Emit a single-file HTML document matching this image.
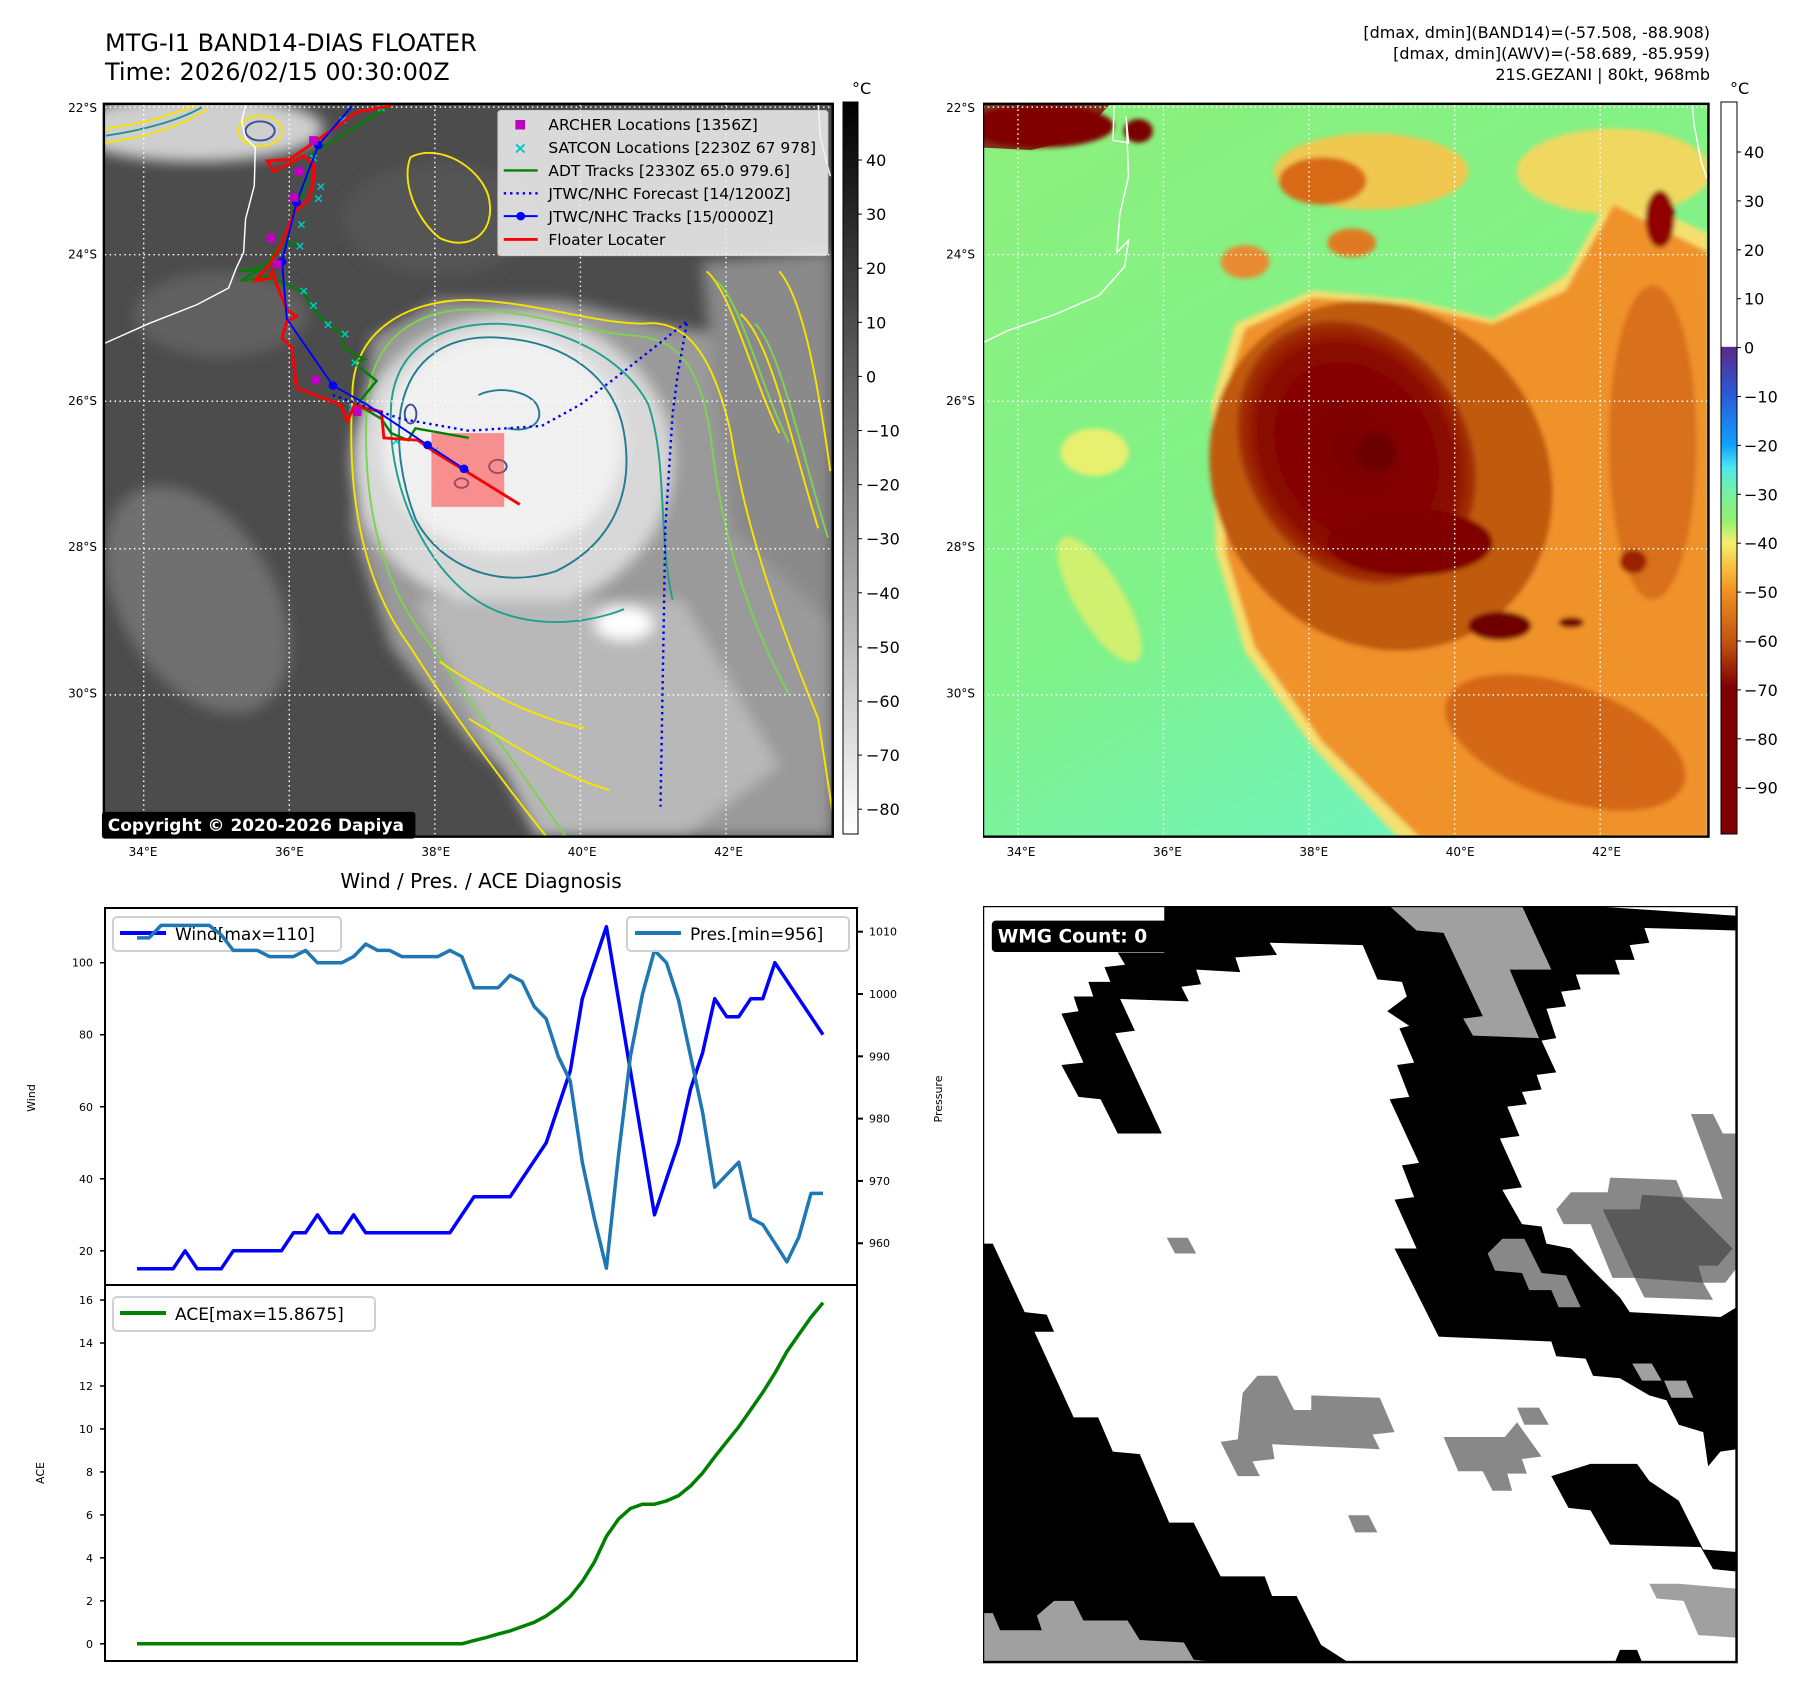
<!DOCTYPE html>
<html><head><meta charset="utf-8"><style>
html,body{margin:0;padding:0;background:#fff;}
svg text{font-family:"DejaVu Sans","Liberation Sans",sans-serif;}
</style></head><body>
<svg id="root" width="1797" height="1692" viewBox="0 0 1797 1692" xmlns="http://www.w3.org/2000/svg">
<defs>
<filter id="blur8" x="-20%" y="-20%" width="140%" height="140%"><feGaussianBlur stdDeviation="14"/></filter>
<filter id="blur3"><feGaussianBlur stdDeviation="5"/></filter>
<linearGradient id="cbGray" x1="0" y1="0" x2="0" y2="1"><stop offset="0" stop-color="#000"/><stop offset="1" stop-color="#fff"/></linearGradient>
<linearGradient id="cbColor" x1="0" y1="0" x2="0" y2="1">
<stop offset="0" stop-color="#fff"/><stop offset="0.334" stop-color="#fff"/>
<stop offset="0.335" stop-color="#5b2a86"/><stop offset="0.40" stop-color="#2a5ad8"/>
<stop offset="0.468" stop-color="#10a0ff"/><stop offset="0.50" stop-color="#50e8f0"/>
<stop offset="0.535" stop-color="#78f0a0"/><stop offset="0.57" stop-color="#90f070"/>
<stop offset="0.602" stop-color="#f4f070"/><stop offset="0.635" stop-color="#f8c040"/>
<stop offset="0.67" stop-color="#f09020"/><stop offset="0.74" stop-color="#c05010"/>
<stop offset="0.80" stop-color="#800000"/><stop offset="1" stop-color="#800000"/>
</linearGradient>
<radialGradient id="rgCore" cx="0.5" cy="0.5" r="0.5"><stop offset="0" stop-color="#7a0000"/><stop offset="0.8" stop-color="#8a0800"/><stop offset="1" stop-color="#a83a08"/></radialGradient>
<linearGradient id="bgGreen" x1="0" y1="0" x2="0.6" y2="1"><stop offset="0" stop-color="#8cf07c"/><stop offset="0.6" stop-color="#80f28a"/><stop offset="1" stop-color="#70f4c0"/></linearGradient>
</defs>

<text x="105" y="51" font-size="24">MTG-I1 BAND14-DIAS FLOATER</text>
<text x="105" y="80" font-size="24">Time: 2026/02/15 00:30:00Z</text>
<g font-size="16" text-anchor="end">
<text x="1710" y="38">[dmax, dmin](BAND14)=(-57.508, -88.908)</text>
<text x="1710" y="59">[dmax, dmin](AWV)=(-58.689, -85.959)</text>
<text x="1710" y="80">21S.GEZANI | 80kt, 968mb</text>
</g>

<svg x="100" y="100" width="757" height="740" viewBox="0 0 1560 1555" preserveAspectRatio="none">
<clipPath id="clipL"><rect x="8" y="8" width="1502" height="1540"/></clipPath>
<g clip-path="url(#clipL)">
<rect x="0" y="0" width="1560" height="1555" fill="#4c4c4c"/>
<g filter="url(#blur8)">
<ellipse cx="200" cy="60" rx="260" ry="70" fill="#cfcfcf"/>
<ellipse cx="250" cy="450" rx="180" ry="90" fill="#606060"/>
<ellipse cx="200" cy="1050" rx="160" ry="260" fill="#707070" transform="rotate(-30 200 1050)"/>
<ellipse cx="700" cy="250" rx="200" ry="120" fill="#555"/>
<polygon points="560,500 700,420 950,420 1150,470 1320,500 1510,460 1510,1548 1000,1548 760,1350 600,1150 520,900" fill="#9a9a9a"/>
<polygon points="1240,340 1510,320 1510,1100 1300,900" fill="#8a8a8a"/>
<ellipse cx="850" cy="760" rx="330" ry="310" fill="#d8d8d8"/>
<ellipse cx="830" cy="720" rx="250" ry="230" fill="#f0f0f0"/>
<polygon points="650,1050 1200,1050 1400,1400 1200,1548 900,1548" fill="#b8b8b8"/>
<ellipse cx="1080" cy="1100" rx="60" ry="35" fill="#fff"/>
</g>
<g fill="none" stroke-width="4">
<path d="M520,620 C520,480 640,420 760,420 C900,425 1020,470 1120,470 C1200,460 1260,520 1300,700 C1330,900 1400,1100 1480,1300 L1510,1500 M520,620 C510,800 530,1000 640,1150 C720,1280 820,1420 920,1548" stroke="#f5e400"/>
<path d="M550,640 C560,500 650,440 770,440 C900,445 1010,490 1100,495 C1190,500 1240,560 1260,720 C1280,900 1330,1080 1420,1250 M550,640 C540,820 570,1000 670,1130 C760,1260 860,1400 960,1548" stroke="#7dd34f"/>
<path d="M600,640 C610,520 700,470 820,470 C950,475 1080,540 1130,640 C1170,760 1150,920 1180,1050 M600,640 C590,800 660,960 760,1040 C850,1110 980,1110 1080,1070" stroke="#21a08c"/>
<path d="M620,650 C640,540 720,490 830,500 C960,510 1060,580 1080,700 C1100,820 1060,930 940,990 C820,1030 700,980 650,880 C620,800 610,720 620,650" stroke="#227d8e"/>
<path d="M12,90 C80,80 160,60 220,20 M12,60 C90,50 150,30 200,10" stroke="#f5e400"/>
<path d="M12,75 C80,65 160,45 210,15" stroke="#21918c"/>
<ellipse cx="330" cy="65" rx="30" ry="20" stroke="#3b528b"/>
<ellipse cx="330" cy="65" rx="45" ry="32" stroke="#f5e400"/>
<path d="M640,120 C700,90 780,140 800,200 C820,280 760,320 700,290 C650,250 620,170 640,120" stroke="#f5e400"/>
<path d="M1250,360 C1300,400 1350,600 1400,700 M1320,450 C1380,500 1420,700 1480,900 M1400,360 C1450,420 1480,600 1505,780" stroke="#f5e400"/>
<path d="M1270,380 C1320,420 1360,600 1420,720 M1350,470 C1400,520 1440,720 1500,920" stroke="#7dd34f"/>
<ellipse cx="820" cy="770" rx="18" ry="14" stroke="#3b528b"/>
<ellipse cx="745" cy="805" rx="14" ry="10" stroke="#3b528b"/>
<ellipse cx="640" cy="660" rx="12" ry="20" stroke="#3b528b"/>
<path d="M780,620 C820,600 880,610 900,640 C920,680 880,700 840,690" stroke="#227d8e"/>
<path d="M700,1180 C800,1250 900,1300 1000,1320 M760,1300 C860,1360 950,1420 1050,1450" stroke="#f5e400"/>
</g>
<g stroke="#fff" stroke-width="3" stroke-dasharray="3,7">
<line x1="90" y1="0" x2="90" y2="1555"/><line x1="390" y1="0" x2="390" y2="1555"/><line x1="690" y1="0" x2="690" y2="1555"/><line x1="990" y1="0" x2="990" y2="1555"/><line x1="1290" y1="0" x2="1290" y2="1555"/>
<line x1="0" y1="15" x2="1560" y2="15"/><line x1="0" y1="325" x2="1560" y2="325"/><line x1="0" y1="633" x2="1560" y2="633"/><line x1="0" y1="943" x2="1560" y2="943"/><line x1="0" y1="1250" x2="1560" y2="1250"/>
</g>
<path d="M300,10 L292,45 L300,80 L320,100 L318,180 L300,250 L296,320 L280,355 L265,395 L200,430 L100,470 L8,512" fill="none" stroke="#fff" stroke-width="3"/>
<path d="M1480,10 L1485,80 L1505,160" fill="none" stroke="#fff" stroke-width="3"/>
<rect x="683" y="700" width="150" height="155" fill="#ff4040" fill-opacity="0.55"/>
<polyline points="600,12 440,110 430,150 415,200 395,240 385,300 410,305 375,300 340,350 285,360 330,355 290,380 350,370 390,390 420,405 440,440 480,480 500,490 500,520 545,545 520,550 570,590 530,640 580,670 600,700 635,715 650,690 760,710" fill="none" stroke="#008000" stroke-width="5"/>
<g fill="#00c8c8" font-size="26" font-weight="bold" text-anchor="middle">
<text x="440" y="130">×</text><text x="455" y="190">×</text><text x="450" y="215">×</text><text x="415" y="270">×</text><text x="412" y="315">×</text><text x="420" y="410">×</text><text x="440" y="440">×</text><text x="470" y="480">×</text><text x="505" y="500">×</text><text x="525" y="560">×</text><text x="520" y="655">×</text><text x="610" y="725">×</text><text x="690" y="745">×</text><text x="580" y="25">×</text><text x="500" y="50">×</text>
</g>
<polyline points="600,12 530,25 440,90 390,125 345,128 358,150 420,118 440,135 440,170 430,210 400,235 375,300 350,345 320,380 350,375 355,360 365,390 385,440 405,455 385,465 375,500 395,520 405,605 495,640 510,675 525,640 555,650 580,655 585,710 655,715 690,740 865,850" fill="none" stroke="#ff0000" stroke-width="6"/>
<polyline points="520,12 450,95 405,215 375,340 385,460 480,600 550,640 675,725 750,775 760,780" fill="none" stroke="#0000ff" stroke-width="4"/>
<g fill="#0000ff"><circle cx="450" cy="95" r="9"/><circle cx="405" cy="215" r="9"/><circle cx="375" cy="340" r="9"/><circle cx="480" cy="600" r="9"/><circle cx="675" cy="725" r="9"/><circle cx="750" cy="775" r="9"/></g>
<polyline points="480,620 620,670 760,695 910,685 990,640 1080,570 1210,465 1190,580 1180,660 1165,900 1160,1200 1155,1485" fill="none" stroke="#0000ff" stroke-width="5" stroke-dasharray="5,8"/>
<g fill="#c000c0"><rect x="431" y="76" width="18" height="18"/><rect x="401" y="141" width="18" height="18"/><rect x="391" y="196" width="18" height="18"/><rect x="343" y="281" width="18" height="18"/><rect x="356" y="336" width="18" height="18"/><rect x="436" y="579" width="18" height="18"/><rect x="521" y="646" width="18" height="18"/></g>
</g>
<g>
<rect x="820" y="22" width="680" height="305" rx="6" fill="#f2f2f2" fill-opacity="0.85" stroke="#ccc" stroke-width="2"/>
<rect x="856" y="42" width="20" height="20" fill="#c000c0"/>
<text x="866" y="112" fill="#00c8c8" font-size="34" font-weight="bold" text-anchor="middle">×</text>
<line x1="832" y1="148" x2="902" y2="148" stroke="#008000" stroke-width="5"/>
<line x1="832" y1="196" x2="902" y2="196" stroke="#0000ff" stroke-width="5" stroke-dasharray="5,8"/>
<line x1="832" y1="244" x2="902" y2="244" stroke="#0000ff" stroke-width="4"/><circle cx="867" cy="244" r="9" fill="#0000ff"/>
<line x1="832" y1="293" x2="902" y2="293" stroke="#ff0000" stroke-width="6"/>
<g font-size="32"><text x="924" y="63">ARCHER Locations [1356Z]</text><text x="924" y="111">SATCON Locations [2230Z 67 978]</text><text x="924" y="160">ADT Tracks [2330Z 65.0 979.6]</text><text x="924" y="208">JTWC/NHC Forecast [14/1200Z]</text><text x="924" y="256">JTWC/NHC Tracks [15/0000Z]</text><text x="924" y="305">Floater Locater</text></g>
</g>
<rect x="8" y="8" width="1502" height="1540" fill="none" stroke="#000" stroke-width="5"/>
<rect x="4" y="1496" width="646" height="56" rx="6" fill="#000"/>
<text x="16" y="1536" font-size="35" font-weight="bold" fill="#fff">Copyright © 2020-2026 Dapiya</text>
</svg>

<g>
<rect x="843" y="102" width="15" height="732" fill="url(#cbGray)" stroke="#000" stroke-width="1"/>
<text x="852" y="94" font-size="16">°C</text>
<g font-size="16" id="cbLticks"></g>
</g>

<svg x="983" y="100" width="757" height="740" viewBox="0 0 1560 1555" preserveAspectRatio="none">
<clipPath id="clipR"><rect x="0" y="8" width="1495" height="1540"/></clipPath>
<g clip-path="url(#clipR)">
<rect x="0" y="0" width="1560" height="1555" fill="url(#bgGreen)"/>
<g filter="url(#blur3)">
<ellipse cx="230" cy="740" rx="70" ry="50" fill="#e8f070"/>
<ellipse cx="240" cy="1050" rx="50" ry="150" fill="#d0f070" transform="rotate(-30 240 1050)"/>
<polygon points="470,640 520,470 680,400 880,420 1050,460 1200,370 1300,190 1495,280 1495,1555 860,1555 680,1360 540,1160 480,950" fill="#f4e070"/>
<ellipse cx="800" cy="150" rx="200" ry="80" fill="#f0c850"/>
<ellipse cx="1300" cy="150" rx="200" ry="90" fill="#f0d860"/>
<polygon points="490,640 540,480 680,415 880,430 1050,470 1200,400 1300,220 1495,320 1495,1550 900,1550 700,1350 560,1150 500,950" fill="#f0922a"/>
<ellipse cx="700" cy="170" rx="90" ry="50" fill="#d86a18"/>
<ellipse cx="540" cy="340" rx="50" ry="35" fill="#e88a30"/>
<ellipse cx="760" cy="300" rx="50" ry="30" fill="#e07a20"/>
<ellipse cx="1380" cy="720" rx="90" ry="330" fill="#d8701c"/>
<ellipse cx="820" cy="790" rx="340" ry="380" fill="#c05a10" transform="rotate(-35 820 790)"/>
<ellipse cx="1200" cy="1350" rx="260" ry="120" fill="#d46818" transform="rotate(20 1200 1350)"/>
<ellipse cx="770" cy="740" rx="230" ry="290" fill="url(#rgCore)" transform="rotate(-30 770 740)"/>
<ellipse cx="880" cy="930" rx="170" ry="70" fill="#800000"/>
<ellipse cx="810" cy="740" rx="40" ry="40" fill="#6a0000"/>
<ellipse cx="1065" cy="1105" rx="65" ry="30" fill="#700000"/>
<ellipse cx="1212" cy="1098" rx="26" ry="11" fill="#700000"/>
<ellipse cx="1395" cy="250" rx="30" ry="60" fill="#900000"/>
<ellipse cx="1340" cy="970" rx="28" ry="25" fill="#9a2000"/>
<ellipse cx="120" cy="55" rx="150" ry="45" fill="#800000"/>
<ellipse cx="320" cy="65" rx="30" ry="25" fill="#7a0000"/>
</g>
<polygon points="0,10 260,10 200,80 100,105 0,100" fill="#800000" opacity="0.8"/>
<g stroke="#fff" stroke-width="3" stroke-dasharray="3,7">
<line x1="72" y1="0" x2="72" y2="1555"/><line x1="372" y1="0" x2="372" y2="1555"/><line x1="672" y1="0" x2="672" y2="1555"/><line x1="972" y1="0" x2="972" y2="1555"/><line x1="1272" y1="0" x2="1272" y2="1555"/>
<line x1="0" y1="15" x2="1560" y2="15"/><line x1="0" y1="325" x2="1560" y2="325"/><line x1="0" y1="633" x2="1560" y2="633"/><line x1="0" y1="943" x2="1560" y2="943"/><line x1="0" y1="1250" x2="1560" y2="1250"/>
</g>
<path d="M270,12 L268,85 L300,90 L295,35 L300,160 L282,240 L276,320 L300,295 L292,350 L240,410 L150,450 L50,485 L0,510" fill="none" stroke="#fff" stroke-width="3"/>
<path d="M1462,12 L1465,50 L1480,130 L1492,165" fill="none" stroke="#fff" stroke-width="3"/>
</g>
<rect x="0" y="8" width="1495" height="1540" fill="none" stroke="#000" stroke-width="5"/>
</svg>

<g>
<rect x="1721" y="102" width="16" height="732" fill="url(#cbColor)" stroke="#000" stroke-width="1"/>
<text x="1730" y="94" font-size="16">°C</text>
<g font-size="16" id="cbRticks"></g>
</g>

<g font-size="12" id="mapTicks"></g>

<text x="481" y="888" font-size="20" text-anchor="middle">Wind / Pres. / ACE Diagnosis</text>
<g id="chart"></g>
<text transform="translate(35,1098) rotate(-90)" font-size="11" text-anchor="middle">Wind</text>
<text transform="translate(942,1099) rotate(-90)" font-size="11" text-anchor="middle">Pressure</text>
<text transform="translate(44,1473) rotate(-90)" font-size="11" text-anchor="middle">ACE</text>

<svg x="983" y="906" width="756" height="759" viewBox="0 0 1543 1551" preserveAspectRatio="none">
<rect x="0" y="0" width="1538" height="1545" fill="#fff"/>
<g fill="#000">
<polygon points="370,0 1240,0 1538,20 1538,50 1350,45 1360,75 1320,80 1330,110 1290,110 1300,140 1210,140 1220,170 1180,175 1190,205 1150,210 1170,270 1140,275 1170,340 1130,345 1140,375 1100,380 1110,405 1070,410 1095,470 1055,475 1100,575 1060,580 1100,650 1140,655 1150,690 1200,700 1300,800 1320,830 1505,840 1538,820 1538,1110 1505,1115 1480,1145 1470,1075 1420,1060 1395,1010 1360,1000 1300,965 1245,960 1230,925 1170,920 1160,890 930,880 840,700 885,700 840,600 880,595 855,530 890,525 830,395 870,390 845,325 880,320 850,250 870,245 825,215 865,185 855,155 805,150 775,80 585,75 600,100 515,105 525,135 435,130 445,160 405,165 420,195 280,190 310,255 270,260 365,465 275,465 240,395 195,390 160,325 205,320 160,220 195,215 185,185 225,185 215,155 260,155 248,125 290,120 275,95 370,95"/>
<polygon points="0,690 20,690 85,830 130,835 145,870 105,870 185,1045 235,1045 265,1115 320,1120 380,1260 430,1260 485,1370 575,1370 590,1410 640,1410 690,1510 745,1545 0,1545"/>
<polygon points="1160,1165 1240,1140 1335,1140 1360,1175 1420,1215 1470,1315 1538,1320 1538,1360 1490,1355 1465,1310 1280,1305 1240,1235 1195,1230"/>
<polygon points="1290,1545 1300,1520 1335,1520 1345,1545"/>
</g>
<g fill="#a0a0a0">
<polygon points="830,0 1100,0 1160,130 1075,130 1135,270 1000,265 980,230 1020,225 940,55 885,50"/>
<polygon points="0,1445 20,1445 35,1480 120,1480 110,1450 145,1420 185,1420 205,1460 295,1460 320,1500 410,1505 430,1540 475,1545 0,1545"/>
<polygon points="1325,935 1365,935 1385,970 1345,970"/><polygon points="1390,970 1435,970 1450,1005 1405,1005"/>
<polygon points="1360,1385 1420,1385 1538,1395 1538,1495 1460,1490 1430,1420 1375,1415"/>
</g>
<g fill="#888">
<polygon points="530,995 560,960 600,960 635,1030 670,1030 670,1000 810,1005 840,1075 795,1080 810,1110 590,1100 595,1130 550,1135 565,1165 520,1165 485,1095 520,1090"/>
<polygon points="940,1085 1065,1085 1090,1055 1140,1125 1100,1130 1110,1160 1070,1160 1080,1195 1040,1195 1020,1155 970,1155"/>
<polygon points="1090,1025 1135,1025 1155,1060 1105,1060"/>
<polygon points="1170,620 1200,585 1275,585 1280,555 1415,560 1430,595 1538,600 1538,740 1515,770 1470,770 1490,805 1350,800 1330,760 1285,760 1240,650 1185,650"/>
<polygon points="1445,425 1490,425 1510,465 1538,465 1538,600 1510,600"/>
<polygon points="1030,710 1060,680 1105,680 1140,750 1190,755 1220,820 1175,820 1160,785 1115,785 1100,750 1045,745"/>
<polygon points="375,678 418,678 435,710 392,710"/><polygon points="745,1245 787,1245 805,1280 760,1280"/>
</g>
<polygon points="1265,620 1340,620 1345,590 1425,595 1530,700 1500,735 1460,735 1470,770 1330,760" fill="#595959"/>
<rect x="0" y="0" width="1538" height="1545" fill="none" stroke="#000" stroke-width="5"/>
<rect x="18" y="30" width="360" height="64" rx="8" fill="#000"/>
<text x="30" y="75" font-size="38" font-weight="bold" fill="#fff">WMG Count: 0</text>
</svg>

<script>
const windValues=[15,15,15,15,20,15,15,15,20,20,20,20,20,25,25,30,25,25,30,25,25,25,25,25,25,25,25,30,35,35,35,35,40,45,50,60,70,90,100,110,90,70,50,30,40,50,65,75,90,85,85,90,90,100,95,90,85,80];
const presValues=[1009,1009,1011,1011,1011,1011,1011,1009.5,1007,1007,1007,1006,1006,1006,1007,1005,1005,1005,1006,1008,1007,1007,1006,1006,1006,1006,1007,1006,1001,1001,1001,1003,1002,998,996,990,986,973,964,956,974,990,1000,1007,1005,999,990,981,969,971,973,964,963,960,957,961,968,968];
const aceValues=[0,0,0,0,0,0,0,0,0,0,0,0,0,0,0,0,0,0,0,0,0,0,0,0,0,0,0,0,0.15,0.29,0.45,0.6,0.8,1.0,1.3,1.7,2.2,2.9,3.8,5.0,5.8,6.3,6.5,6.5,6.65,6.9,7.35,7.95,8.7,9.4,10.1,10.9,11.7,12.6,13.6,14.4,15.2,15.87];
const windTicks=[20,40,60,80,100];
const presTicks=[960,970,980,990,1000,1010];
const aceTicks=[0,2,4,6,8,10,12,14,16];
const irCbTicks=[40,30,20,10,0,-10,-20,-30,-40,-50,-60,-70,-80];
const awvCbTicks=[40,30,20,10,0,-10,-20,-30,-40,-50,-60,-70,-80,-90];
const lonTicks=[34,36,38,40,42];
const latTicks=[22,24,26,28,30];

const NS='http://www.w3.org/2000/svg';
function mk(tag,attrs,parent){const e=document.createElementNS(NS,tag);for(const k in attrs)e.setAttribute(k,attrs[k]);parent.appendChild(e);return e;}

const X0=105,X1=857,W_TOP=908,MID=1285,BOT=1661;
const xI=i=>137+i*(686/(windValues.length-1));
const yW=v=>W_TOP+(115.2-v)/(115.2-10.5)*(MID-W_TOP);
const yP=v=>W_TOP+(1013.8-v)/(1013.8-953.3)*(MID-W_TOP);
const yA=v=>MID+(16.7-v)/(16.7+0.8)*(BOT-MID);
const chart=document.getElementById('chart');

mk('rect',{x:X0,y:W_TOP,width:X1-X0,height:BOT-W_TOP,fill:'#fff'},chart);
function path(vals,yf){return vals.map((v,i)=>(i?'L':'M')+xI(i).toFixed(1)+','+yf(v).toFixed(1)).join(' ');}

const wl=mk('g',{},chart);


mk('rect',{x:113,y:917,width:228,height:34,rx:4,fill:'#fff',stroke:'#d0d0d0','stroke-width':2},wl);
mk('line',{x1:120,y1:933,x2:166,y2:933,stroke:'#0000ff','stroke-width':4},wl);
const wt=mk('text',{x:175,y:940,'font-size':17},wl);wt.textContent='Wind[max=110]';

const wp=mk('path',{d:path(windValues,yW),fill:'none',stroke:'#0000ff','stroke-width':3.5,'stroke-linejoin':'round'},chart);


const pp=mk('path',{d:path(presValues,yP),fill:'none',stroke:'#1f77b4','stroke-width':3.5,'stroke-linejoin':'round'},chart);


const ap=mk('path',{d:path(aceValues,yA),fill:'none',stroke:'#008000','stroke-width':3.5,'stroke-linejoin':'round'},chart);



const pl=mk('g',{},chart);


mk('rect',{x:627,y:917,width:222,height:34,rx:4,fill:'#fff','fill-opacity':0.85,stroke:'#d0d0d0','stroke-width':2},pl);
mk('line',{x1:635,y1:933,x2:681,y2:933,stroke:'#1f77b4','stroke-width':4},pl);
const pt=mk('text',{x:690,y:940,'font-size':17},pl);pt.textContent='Pres.[min=956]';

const al=mk('g',{},chart);


mk('rect',{x:113,y:1297,width:262,height:34,rx:4,fill:'#fff',stroke:'#d0d0d0','stroke-width':2},al);
mk('line',{x1:120,y1:1313,x2:166,y2:1313,stroke:'#008000','stroke-width':4},al);
const at=mk('text',{x:175,y:1320,'font-size':17},al);at.textContent='ACE[max=15.8675]';

mk('rect',{x:X0,y:W_TOP,width:X1-X0,height:MID-W_TOP,fill:'none',stroke:'#000','stroke-width':2},chart);
mk('rect',{x:X0,y:MID,width:X1-X0,height:BOT-MID,fill:'none',stroke:'#000','stroke-width':2},chart);

windTicks.forEach(v=>{const y=yW(v);mk('line',{x1:X0-5,y1:y,x2:X0,y2:y,stroke:'#000','stroke-width':1.5},chart);
 const t=mk('text',{x:X0-12,y:y+4,'font-size':11,'text-anchor':'end'},chart);t.textContent=v;
 
 });
presTicks.forEach(v=>{const y=yP(v);mk('line',{x1:X1,y1:y,x2:X1+6,y2:y,stroke:'#000','stroke-width':2},chart);
 const t=mk('text',{x:X1+12,y:y+4,'font-size':11},chart);t.textContent=v;
 
 });
aceTicks.forEach(v=>{const y=yA(v);mk('line',{x1:X0-5,y1:y,x2:X0,y2:y,stroke:'#000','stroke-width':1.5},chart);
 const t=mk('text',{x:X0-12,y:y+4,'font-size':11,'text-anchor':'end'},chart);t.textContent=v;
 
 });

const cbL=document.getElementById('cbLticks');
irCbTicks.forEach(v=>{const y=160+(40-v)*5.41;mk('line',{x1:858,y1:y,x2:862,y2:y,stroke:'#000'},cbL);
 const t=mk('text',{x:866,y:y+6},cbL);t.textContent=(v<0?'\u2212'+(-v):v);
 
 });
const cbR=document.getElementById('cbRticks');
awvCbTicks.forEach(v=>{const y=152+(40-v)*4.89;mk('line',{x1:1737,y1:y,x2:1741,y2:y,stroke:'#000'},cbR);
 const t=mk('text',{x:1744,y:y+6},cbR);t.textContent=(v<0?'\u2212'+(-v):v);
 
 });

const mt=document.getElementById('mapTicks');
[[143,97],[1021,975]].forEach(([lx,ly])=>{
 lonTicks.forEach(l=>{const t=mk('text',{x:lx+(l-34)*73.2,y:856,'text-anchor':'middle'},mt);t.textContent=l+'°E';
  
  });
 latTicks.forEach(l=>{const t=mk('text',{x:ly,y:112+(l-22)*73.2,'text-anchor':'end'},mt);t.textContent=l+'°S';
  
  });
});
</script>
</svg>
</body></html>
